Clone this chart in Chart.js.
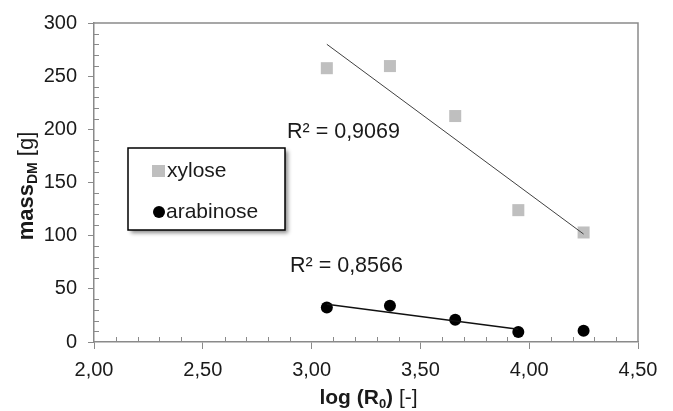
<!DOCTYPE html>
<html>
<head>
<meta charset="utf-8">
<script src="https://cdn.jsdelivr.net/npm/chart.js@4/dist/chart.umd.min.js"></script>
<style>
  html, body { margin: 0; padding: 0; background: #ffffff; }
  #wrap { width: 673px; height: 411px; }
</style>
</head>
<body>
<div id="wrap"><canvas id="c" width="673" height="411"></canvas></div>
<script>
// ---- data ----
const logR0 = [3.07, 3.36, 3.66, 3.95, 4.25];
const xylose = [257.5, 259.5, 212.5, 124, 103];
const arabinose = [32.5, 34, 21, 9.5, 10.5];
const xyloseTrendY = [280, 101.5];      // trend line at logR0[0] and logR0[4]
const arabinoseTrendY = [35.5, 12];     // trend line at logR0[0] and logR0[3]
const seriesNames = ['xylose', 'arabinose'];
const r2Labels = ['R\u00B2 = 0,9069', 'R\u00B2 = 0,8566'];
const xTicks = [2.0, 2.5, 3.0, 3.5, 4.0, 4.5];
const yTicks = [0, 50, 100, 150, 200, 250, 300];

const FONT = "'Liberation Sans', Arial, Helvetica, sans-serif";
const AXIS_GRAY = '#8a8a8a';
const SQ_GRAY = '#bfbfbf';

const pts = (xs, ys) => ys.map((y, i) => ({ x: xs[i], y }));

const decorPlugin = {
  id: 'decor',
  beforeDatasetsDraw(chart) {
    const ctx = chart.ctx, a = chart.chartArea;
    const xs = chart.scales.x, ys = chart.scales.y;
    ctx.save();
    // top and right plot border
    ctx.strokeStyle = AXIS_GRAY;
    ctx.lineWidth = 1.5;
    ctx.beginPath();
    ctx.moveTo(a.left, a.top); ctx.lineTo(a.right, a.top); ctx.lineTo(a.right, a.bottom);
    ctx.stroke();
    // minor ticks (inward)
    ctx.lineWidth = 1;
    ctx.beginPath();
    for (let v = 10; v < 300; v += 10) {
      if (v % 50 === 0) continue;
      const py = Math.round(ys.getPixelForValue(v)) + 0.5;
      ctx.moveTo(a.left, py); ctx.lineTo(a.left + 5, py);
    }
    for (let k = 21; k < 45; k++) {
      if (k % 5 === 0) continue;
      const px = Math.round(xs.getPixelForValue(k / 10)) + 0.5;
      ctx.moveTo(px, a.bottom); ctx.lineTo(px, a.bottom - 5);
    }
    ctx.stroke();
    ctx.restore();
  },
  afterDraw(chart) {
    const ctx = chart.ctx;
    ctx.save();
    ctx.fillStyle = '#1a1a1a';
    ctx.textBaseline = 'alphabetic';
    // R² labels
    ctx.font = '21.5px ' + FONT;
    ctx.textAlign = 'left';
    ctx.fillText(r2Labels[0], 287, 137.5);
    ctx.fillText(r2Labels[1], 290, 272);

    // legend box with shadow
    const lx = 128, ly = 148, lw = 157, lh = 82;
    ctx.save();
    ctx.shadowColor = 'rgba(0,0,0,0.45)';
    ctx.shadowBlur = 4;
    ctx.shadowOffsetX = 3;
    ctx.shadowOffsetY = 3;
    ctx.fillStyle = '#ffffff';
    ctx.fillRect(lx, ly, lw, lh);
    ctx.restore();
    ctx.strokeStyle = '#000000';
    ctx.lineWidth = 1.5;
    ctx.strokeRect(lx, ly, lw, lh);
    ctx.fillStyle = SQ_GRAY;
    ctx.fillRect(152, 165, 13, 12);
    ctx.fillStyle = '#000000';
    ctx.beginPath();
    ctx.arc(159, 212, 6, 0, Math.PI * 2);
    ctx.fill();
    ctx.fillStyle = '#1a1a1a';
    ctx.font = '21px ' + FONT;
    ctx.fillText(seriesNames[0], 167, 177);
    ctx.fillText(seriesNames[1], 166, 217.5);

    // x axis title: log (R0) [-]
    const bold = 'bold 21px ' + FONT, reg = '21px ' + FONT, sub = 'bold 13px ' + FONT;
    const parts = [
      { t: 'log (R', f: bold, dy: 0 },
      { t: '0', f: sub, dy: 4 },
      { t: ') ', f: bold, dy: 0 },
      { t: '[-]', f: reg, dy: 0 }
    ];
    let total = 0;
    parts.forEach(p => { ctx.font = p.f; p.w = ctx.measureText(p.t).width; total += p.w; });
    let cx = 368.5 - total / 2;
    parts.forEach(p => { ctx.font = p.f; ctx.fillText(p.t, cx, 403.5 + p.dy); cx += p.w; });

    // y axis title: massDM [g]
    ctx.save();
    ctx.translate(33, 186);
    ctx.rotate(-Math.PI / 2);
    const yb = 'bold 22px ' + FONT, ysub = 'bold 14px ' + FONT, yreg = '22px ' + FONT;
    const yparts = [
      { t: 'mass', f: yb, dy: 0 },
      { t: 'DM', f: ysub, dy: 4 },
      { t: ' ', f: yb, dy: 0 },
      { t: '[g]', f: yreg, dy: 0 }
    ];
    let yt = 0;
    yparts.forEach(p => { ctx.font = p.f; p.w = ctx.measureText(p.t).width; yt += p.w; });
    let yx = -yt / 2;
    yparts.forEach(p => { ctx.font = p.f; ctx.fillText(p.t, yx, p.dy); yx += p.w; });
    ctx.restore();
    ctx.restore();
  }
};

new Chart(document.getElementById('c'), {
  type: 'scatter',
  data: {
    datasets: [
      {
        label: 'xylose trend',
        type: 'line',
        data: [{ x: logR0[0], y: xyloseTrendY[0] }, { x: logR0[4], y: xyloseTrendY[1] }],
        borderColor: '#404040',
        borderWidth: 1,
        pointRadius: 0,
        fill: false,
        order: 0
      },
      {
        label: 'arabinose trend',
        type: 'line',
        data: [{ x: logR0[0], y: arabinoseTrendY[0] }, { x: logR0[3], y: arabinoseTrendY[1] }],
        borderColor: '#111111',
        borderWidth: 1.3,
        pointRadius: 0,
        fill: false,
        order: 0
      },
      {
        label: seriesNames[0],
        data: pts(logR0, xylose),
        pointStyle: 'rect',
        pointRadius: 8.5,
        pointBackgroundColor: SQ_GRAY,
        pointBorderWidth: 0,
        borderColor: SQ_GRAY,
        order: 1
      },
      {
        label: seriesNames[1],
        data: pts(logR0, arabinose),
        pointStyle: 'circle',
        pointRadius: 6,
        pointBackgroundColor: '#000000',
        pointBorderWidth: 0,
        borderColor: '#000000',
        order: 1
      }
    ]
  },
  options: {
    responsive: false,
    animation: false,
    devicePixelRatio: 1,
    layout: { padding: { left: 0, right: 35, top: 21, bottom: 0 } },
    plugins: { legend: { display: false }, tooltip: { enabled: false } },
    scales: {
      x: {
        type: 'linear',
        min: 2, max: 4.5,
        afterBuildTicks: s => { s.ticks = xTicks.map(v => ({ value: v })); },
        afterFit: s => { s.height = 69; },
        ticks: {
          callback: v => v.toFixed(2).replace('.', ','),
          font: { family: FONT, size: 20 },
          color: '#1a1a1a',
          padding: 9,
          maxRotation: 0,
          autoSkip: false
        },
        grid: { drawOnChartArea: false, drawTicks: true, tickLength: 7, color: AXIS_GRAY, tickWidth: 1 },
        border: { color: AXIS_GRAY, width: 1.5 }
      },
      y: {
        type: 'linear',
        min: 0, max: 300,
        afterBuildTicks: s => { s.ticks = yTicks.map(v => ({ value: v })); },
        afterFit: s => { s.width = 94; },
        ticks: {
          callback: v => String(v),
          font: { family: FONT, size: 20 },
          color: '#1a1a1a',
          padding: 11,
          autoSkip: false
        },
        grid: { drawOnChartArea: false, drawTicks: true, tickLength: 6, color: AXIS_GRAY, tickWidth: 1 },
        border: { color: AXIS_GRAY, width: 1.5 }
      }
    }
  },
  plugins: [decorPlugin]
});
</script>
</body>
</html>
